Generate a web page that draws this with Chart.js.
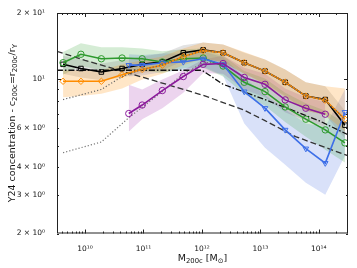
<!DOCTYPE html>
<html>
<head>
<meta charset="utf-8">
<script src="https://cdn.jsdelivr.net/npm/chart.js@4.4.1/dist/chart.umd.min.js"></script>
<style>
  html, body { margin: 0; padding: 0; background: #fff; }
  #wrap { width: 357px; height: 268px; }
</style>
</head>
<body>
<div id="wrap"><canvas id="cm"></canvas></div>
<script>
// halo mass bins [Msun]
const massBins = [4.2e9, 8.5e9, 1.9e10, 4.3e10, 9.5e10, 2.1e11, 4.8e11, 1.05e12, 2.3e12, 5.3e12, 1.2e13, 2.66e13, 6.0e13, 1.29e14, 2.8e14];
const lateMass = [5.6e10, 9.5e10, 2.1e11, 4.8e11, 1.05e12, 2.3e12, 5.3e12, 1.2e13, 2.66e13, 6.0e13, 1.29e14, 2.8e14];

// median concentrations
const blackC  = [11.7, 11.2, 10.8, 11.2, 11.7, 12.0, 13.2, 13.6, 13.2, 11.9, 10.9, 9.7, 8.4, 8.1, 6.2];
const orangeC = [9.8, 9.8, 9.8, 10.5, 11.1, 11.6, 12.7, 13.5, 13.2, 11.9, 10.9, 9.7, 8.4, 8.05, 6.6];
const greenC  = [11.9, 13.0, 12.4, 12.5, 12.4, 12.0, 12.4, 12.5, 11.5, 9.7, 8.8, 7.5, 6.6, 5.9, 5.15];
const blueC   = [11.6, 11.6, 11.9, 12.0, 12.4, 11.7, 8.8, 7.4, 5.9, 4.85, 4.17, 7.1];
const purpleC = [7.0, 7.65, 8.9, 10.3, 11.7, 11.8, 10.2, 9.5, 8.07, 7.4, 6.95];

// scatter bands (16th / 84th)
const blackLo  = [10.6, 10.2, 9.9, 10.2, 10.7, 11.0, 12.1, 12.4, 12.0, 10.6, 9.6, 8.4, 7.2, 6.9, 5.4];
const blackHi  = [12.8, 12.3, 11.8, 12.2, 12.7, 13.1, 14.3, 14.7, 14.4, 13.2, 12.3, 11.1, 9.7, 9.3, 7.2];
const orangeLo = [8.3, 8.4, 8.6, 9.1, 10.0, 10.6, 11.6, 12.4, 12.0, 10.6, 9.5, 8.3, 7.2, 6.9, 5.8];
const orangeHi = [11.0, 11.0, 11.0, 11.7, 12.2, 12.7, 13.8, 14.7, 14.4, 13.3, 12.3, 11.1, 9.7, 9.3, 9.1];
const greenLo  = [10.5, 11.5, 11.0, 11.0, 11.0, 10.7, 11.2, 11.3, 10.3, 8.6, 7.6, 6.4, 5.5, 4.8, 4.2];
const greenHi  = [13.3, 14.6, 14.0, 14.0, 13.8, 13.4, 13.7, 13.8, 12.8, 10.9, 10.1, 8.7, 7.8, 7.2, 6.3];
const blueLo   = [10.3, 10.4, 10.8, 11.0, 11.4, 10.4, 6.3, 4.9, 4.1, 3.4, 3.0, 4.5];
const blueHi   = [13.0, 12.9, 13.1, 13.1, 13.4, 12.6, 10.2, 8.5, 7.3, 6.3, 6.1, 9.0];
const purpleLo = [5.8, 6.6, 7.4, 8.7, 10.7, 10.6, 9.0, 8.3, 7.1, 6.5, 6.1];
const purpleHi = [9.45, 9.0, 10.0, 11.0, 12.3, 12.8, 11.3, 10.6, 9.1, 8.3, 7.9];

// model curves
const dashMass = [3.3e9, 1.0e10, 1.0e11, 1.0e12, 5.0e12, 1.2e13, 4.0e13, 3.2e14];
const dashC    = [13.4, 12.2, 10.2, 8.5, 7.3, 6.5, 5.5, 4.5];
const dotdashMass = [3.3e9, 1.0e10, 1.0e11, 1.0e12, 2.3e12, 1.2e13, 1.0e14, 3.2e14];
const dotdashC    = [11.0, 11.0, 11.0, 11.0, 9.5, 8.1, 6.5, 5.6];
const dotHiMass = [4.2e9, 1.9e10, 4.3e10, 9.5e10, 2.1e11, 4.8e11, 1.05e12, 2.3e12, 5.3e12, 1.2e13, 2.66e13, 6.0e13, 1.29e14, 2.8e14];
const dotHiC    = [8.1, 9.0, 10.3, 11.1, 11.6, 12.7, 13.5, 13.2, 11.9, 10.9, 9.7, 8.4, 8.05, 6.6];
const dotLoMass = [4.2e9, 1.9e10, 5.6e10, 2.1e11, 4.8e11, 1.05e12, 2.3e12];
const dotLoC    = [4.65, 5.2, 6.7, 8.8, 10.6, 11.9, 11.9];

const yTicks = [2, 3, 4, 6, 10, 20];
const yTickLabels = ['2 × 10⁰', '3 × 10⁰', '4 × 10⁰', '6 × 10⁰', '10¹', '2 × 10¹'];
const xTicks = [1e10, 1e11, 1e12, 1e13, 1e14];
const xTickLabels = ['10¹⁰', '10¹¹', '10¹²', '10¹³', '10¹⁴'];

const pts = (xs, ys) => xs.map((x, i) => ({ x: x, y: ys[i] }));

function band(xs, lo, hi, color, order) {
  return [
    { data: pts(xs, hi), borderColor: 'transparent', borderWidth: 0, pointRadius: 0,
      backgroundColor: color, fill: '+1', order: order },
    { data: pts(xs, lo), borderColor: 'transparent', borderWidth: 0, pointRadius: 0,
      backgroundColor: 'transparent', fill: false, order: order }
  ];
}

function series(xs, ys, color, style, rot, order) {
  return {
    data: pts(xs, ys), borderColor: color, borderWidth: 1.6, fill: false,
    pointStyle: style, pointRotation: rot, pointRadius: 3.2,
    pointBorderColor: color, pointBackgroundColor: 'rgba(0,0,0,0)', pointBorderWidth: 1,
    order: order
  };
}

function model(xs, ys, color, dash, width, order) {
  return { data: pts(xs, ys), borderColor: color, borderWidth: width, borderDash: dash,
    pointRadius: 0, fill: false, order: order };
}

const datasets = [
  ...band(massBins, orangeLo, orangeHi, 'rgba(255,140,0,0.22)', 20),
  ...band(massBins, blackLo, blackHi, 'rgba(110,110,110,0.2)', 21),
  ...band(massBins, greenLo, greenHi, 'rgba(44,160,44,0.2)', 22),
  ...band(lateMass, blueLo, blueHi, 'rgba(65,105,225,0.2)', 23),
  ...band(lateMass.slice(0, 11), purpleLo, purpleHi, 'rgba(160,40,170,0.2)', 24),
  model(dashMass, dashC, '#333', [6, 3], 1.3, 10),
  model(dotdashMass, dotdashC, '#111', [6, 2, 1.5, 2], 1.3, 10),
  model(dotHiMass, dotHiC, '#666', [1.2, 2], 1.2, 1),
  model(dotLoMass, dotLoC, '#777', [1.2, 2], 1.2, 9),
  series(massBins, blackC, '#000', 'rect', 0, 6),
  series(massBins, greenC, '#2e9a2e', 'circle', 0, 5),
  series(lateMass, blueC, '#3d6fe8', 'triangle', 180, 4),
  series(lateMass.slice(0, 11), purpleC, '#8b1a9b', 'circle', 0, 3),
  series(massBins, orangeC, '#ff8c00', 'rectRot', 0, 2)
];

// inward ticks on all sides, frame, and axis titles with subscripts
const frame = {
  id: 'frame',
  afterDraw(chart) {
    const { ctx, chartArea: a, scales: { x, y } } = chart;
    ctx.save();
    ctx.strokeStyle = '#222';
    ctx.lineWidth = 1;
    ctx.strokeRect(a.left + 0.5, a.top + 0.5, a.right - a.left - 1, a.bottom - a.top - 1);
    const tick = (px, len, vert) => {
      ctx.beginPath();
      if (vert) {
        ctx.moveTo(px, a.bottom); ctx.lineTo(px, a.bottom - len);
        ctx.moveTo(px, a.top); ctx.lineTo(px, a.top + len);
      } else {
        ctx.moveTo(a.left, px); ctx.lineTo(a.left + len, px);
        ctx.moveTo(a.right, px); ctx.lineTo(a.right - len, px);
      }
      ctx.stroke();
    };
    for (let e = 9; e <= 14; e++) {
      for (let m = 1; m <= 9; m++) {
        const v = m * Math.pow(10, e);
        if (v < x.min || v > x.max) continue;
        tick(Math.round(x.getPixelForValue(v)) + 0.5, m === 1 ? 4 : 2, true);
      }
    }
    [2, 3, 4, 5, 6, 7, 8, 9, 10, 20].forEach(v => {
      tick(Math.round(y.getPixelForValue(v)) + 0.5, v === 10 ? 4 : 2, false);
    });

    ctx.fillStyle = '#111';
    const runs = (parts, size) => parts.map(p => ({ t: p[0], sub: p[1], size: p[1] ? size * 0.72 : size }));
    const drawRuns = (list, cx, cy) => {
      let w = 0;
      list.forEach(r => { ctx.font = r.size + 'px "DejaVu Sans"'; r.w = ctx.measureText(r.t).width; w += r.w; });
      let px = cx - w / 2;
      ctx.textBaseline = 'alphabetic';
      ctx.textAlign = 'left';
      list.forEach(r => {
        ctx.font = r.size + 'px "DejaVu Sans"';
        ctx.fillText(r.t, px, cy + (r.sub ? 2 : 0));
        px += r.w;
      });
    };
    drawRuns(runs([['M', 0], ['200c', 1], [' [M', 0], ['⊙', 1], [']', 0]], 9.5), (a.left + a.right) / 2, 261);
    ctx.save();
    ctx.translate(15, (a.top + a.bottom) / 2);
    ctx.rotate(-Math.PI / 2);
    drawRuns(runs([['Y24 concentration - c', 0], ['200c', 1], ['=r', 0], ['200c', 1], ['/r', 0], ['Y', 1]], 9.5), 0, 0);
    ctx.restore();
    ctx.restore();
  }
};

new Chart(document.getElementById('cm'), {
  type: 'line',
  data: { datasets: datasets },
  options: {
    responsive: true,
    maintainAspectRatio: false,
    animation: false,
    layout: { padding: { left: 0, right: 9, top: 13, bottom: 0 } },
    plugins: { legend: { display: false }, tooltip: { enabled: false } },
    elements: { line: { tension: 0 } },
    scales: {
      x: {
        type: 'logarithmic', min: 3.31e9, max: 3.16e14,
        grid: { display: false }, border: { display: false },
        afterBuildTicks: s => { s.ticks = xTicks.map(v => ({ value: v })); },
        afterFit: s => { s.height = 34.5; },
        ticks: {
          autoSkip: false, maxRotation: 0, padding: 3, color: '#111',
          font: { family: 'DejaVu Sans', size: 7.5 },
          callback: v => xTickLabels[xTicks.indexOf(v)]
        }
      },
      y: {
        type: 'logarithmic', min: 2, max: 20,
        grid: { display: false }, border: { display: false },
        afterBuildTicks: s => { s.ticks = yTicks.map(v => ({ value: v })); },
        afterFit: s => { s.width = 57; },
        ticks: {
          autoSkip: false, padding: 4, color: '#111',
          font: { family: 'DejaVu Sans', size: 7.5 },
          callback: v => yTickLabels[yTicks.indexOf(v)]
        }
      }
    }
  },
  plugins: [frame]
});
</script>
</body>
</html>
